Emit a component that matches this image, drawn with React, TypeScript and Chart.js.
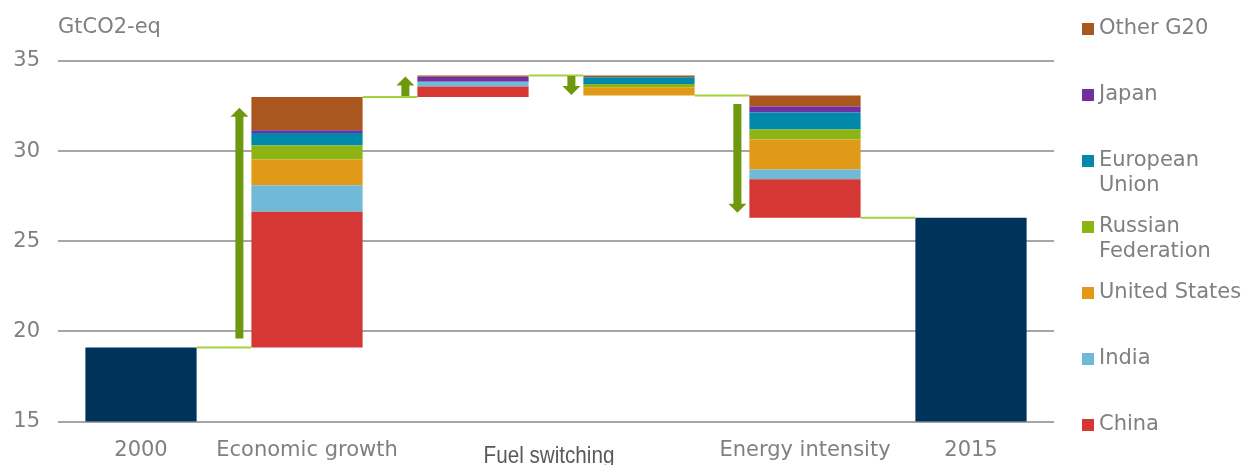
import React, { useEffect, useRef } from "react";
import { Chart, registerables } from "chart.js";
Chart.register(...registerables);

// ---------- data ----------
const categories = ["2000", "Economic growth", "", "", "Energy intensity", "2015"];
const fuelSwitchingLabel = "Fuel switching";
const yTitle = "GtCO2-eq";
const yMin = 15;
const yMax = 35;
const yStep = 5;

const total2000 = 19.1;
const total2015 = 26.3;

// change per step: [Economic growth, Fuel switching (+), Fuel switching (-), Energy intensity]
const china = [7.53, 0.58, 0, -2.14];
const india = [1.48, 0.27, 0, -0.54];
const unitedStates = [1.42, 0, -0.47, -1.66];
const russia = [0.78, 0, -0.18, -0.56];
const europeanUnion = [0.7, 0, -0.37, -0.94];
const japan = [0.15, 0.28, 0, -0.33];
const otherG20 = [1.84, 0.06, -0.09, -0.61];

const seriesNames = ["China", "India", "United States", "Russian Federation", "European Union", "Japan", "Other G20"];

// arrows: start and tip values for each step
const arrowFrom = [19.6, 33.06, 34.17, 32.62];
const arrowTo = [32.4, 34.14, 33.12, 26.58];

// legend (top to bottom)
const legendLines = [["Other G20"], ["Japan"], ["European", "Union"], ["Russian", "Federation"], ["United States"], ["India"], ["China"]];
const legendKeys = ["Other G20", "Japan", "European Union", "Russian Federation", "United States", "India", "China"];

// ---------- styles ----------
const COLORS: Record<string, string> = {
  China: "#d53734",
  India: "#70bad8",
  "United States": "#e19a17",
  "Russian Federation": "#8cb514",
  "European Union": "#0089ab",
  Japan: "#7030a0",
  "Other G20": "#aa561f",
};
const TOTAL_COLOR = "#00335a";
const ARROW_COLOR = "#6e990f";
const CONNECTOR_COLOR = "#a5d23a";
const TEXT_COLOR = "#808080";
const GRID_COLOR = "#a6a6a6";
const FONT = '"DejaVu Sans", sans-serif';
const FONT_SIZE = 21;
const BAR_PCT = 0.67;

const series = [china, india, unitedStates, russia, europeanUnion, japan, otherG20];

function build() {
  const floating: (number[] | null)[][] = series.map(() => categories.map(() => null));
  const levels: number[] = [total2000];
  let level = total2000;
  for (let s = 0; s < china.length; s++) {
    const cat = s + 1;
    const stepTotal = series.reduce((a, arr) => a + arr[s], 0);
    let low = stepTotal >= 0 ? level : level + stepTotal;
    series.forEach((arr, k) => {
      const v = Math.abs(arr[s]);
      if (v > 0) {
        floating[k][cat] = [low, low + v];
        low += v;
      }
    });
    level += stepTotal;
    levels.push(level);
  }
  return { floating, levels };
}

function drawArrow(ctx: CanvasRenderingContext2D, x: number, y1: number, y2: number) {
  const dir = y2 < y1 ? -1 : 1;
  const headLen = 9;
  const headW = 9;
  const shaftW = 4;
  const base = y2 - dir * headLen;
  ctx.beginPath();
  ctx.moveTo(x - shaftW, y1);
  ctx.lineTo(x - shaftW, base);
  ctx.lineTo(x - headW, base);
  ctx.lineTo(x, y2);
  ctx.lineTo(x + headW, base);
  ctx.lineTo(x + shaftW, base);
  ctx.lineTo(x + shaftW, y1);
  ctx.closePath();
  ctx.fill();
}

export default function App() {
  const ref = useRef<HTMLCanvasElement | null>(null);

  useEffect(() => {
    document.body.style.margin = "0";
    const { floating, levels } = build();

    const datasets: any[] = [
      {
        label: "Total",
        data: categories.map((_, i) => (i === 0 ? total2000 : i === categories.length - 1 ? total2015 : null)),
        backgroundColor: TOTAL_COLOR,
        grouped: false,
        barPercentage: BAR_PCT,
        categoryPercentage: 1,
      },
      ...seriesNames.map((name, k) => ({
        label: name,
        data: floating[k],
        backgroundColor: COLORS[name],
        grouped: false,
        barPercentage: BAR_PCT,
        categoryPercentage: 1,
      })),
    ];

    const overlay = {
      id: "overlay",
      afterDatasetsDraw(chart: any) {
        const { ctx, chartArea } = chart;
        const x = chart.scales.x;
        const y = chart.scales.y;
        const catW = chartArea.width / categories.length;
        const half = (catW * BAR_PCT) / 2;
        ctx.save();
        ctx.strokeStyle = CONNECTOR_COLOR;
        ctx.lineWidth = 2;
        for (let i = 0; i < levels.length; i++) {
          const x1 = x.getPixelForValue(i) + half;
          const x2 = x.getPixelForValue(i + 1) - half;
          const py = y.getPixelForValue(levels[i]);
          ctx.beginPath();
          ctx.moveTo(x1, py);
          ctx.lineTo(x2, py);
          ctx.stroke();
        }
        ctx.fillStyle = ARROW_COLOR;
        for (let s = 0; s < arrowFrom.length; s++) {
          const ax = x.getPixelForValue(s + 1) - half - 12;
          drawArrow(ctx, ax, y.getPixelForValue(arrowFrom[s]), y.getPixelForValue(arrowTo[s]));
        }
        ctx.restore();
      },
      afterDraw(chart: any) {
        const { ctx, chartArea } = chart;
        const x = chart.scales.x;
        ctx.save();
        // y title
        ctx.fillStyle = TEXT_COLOR;
        ctx.font = `${FONT_SIZE}px ${FONT}`;
        ctx.textAlign = "left";
        ctx.textBaseline = "middle";
        ctx.fillText(yTitle, chartArea.left, 28);
        // fuel switching label (condensed)
        ctx.fillStyle = "#595959";
        ctx.font = `24px "Liberation Sans", sans-serif`;
        ctx.textAlign = "center";
        ctx.textBaseline = "alphabetic";
        const fx = (x.getPixelForValue(2) + x.getPixelForValue(3)) / 2 - 7;
        ctx.save();
        ctx.translate(fx, 463);
        ctx.scale(0.86, 1);
        ctx.fillText(fuelSwitchingLabel, 0, 0);
        ctx.restore();
        // legend
        ctx.font = `${FONT_SIZE}px ${FONT}`;
        ctx.textAlign = "left";
        ctx.textBaseline = "middle";
        legendLines.forEach((lines, i) => {
          const cy = 29 + i * 66;
          ctx.fillStyle = COLORS[legendKeys[i]];
          ctx.fillRect(1082, cy - 6, 12, 12);
          ctx.fillStyle = TEXT_COLOR;
          lines.forEach((t, j) => ctx.fillText(t, 1099, cy + j * 25));
        });
        ctx.restore();
      },
    };

    const chart = new Chart(ref.current as HTMLCanvasElement, {
      type: "bar",
      data: { labels: categories, datasets },
      options: {
        responsive: false,
        animation: false,
        layout: { padding: { left: 0, right: 188, top: 61, bottom: 0 } },
        plugins: { legend: { display: false }, tooltip: { enabled: false } },
        scales: {
          x: {
            grid: { display: false },
            border: { display: false },
            ticks: { color: TEXT_COLOR, font: { family: FONT, size: FONT_SIZE }, padding: 8, maxRotation: 0, autoSkip: false },
            afterFit: (axis: any) => {
              axis.height = 43.5;
            },
          },
          y: {
            min: yMin,
            max: yMax,
            border: { display: false },
            grid: { color: GRID_COLOR, lineWidth: 2, drawTicks: false },
            ticks: { stepSize: yStep, color: TEXT_COLOR, font: { family: FONT, size: FONT_SIZE }, padding: 18 },
            afterFit: (axis: any) => {
              axis.width = 58;
            },
          },
        },
      },
      plugins: [overlay],
    } as any);
    return () => chart.destroy();
  }, []);

  return (
    <div style={{ width: 1242, height: 465 }}>
      <canvas ref={ref} width={1242} height={465} />
    </div>
  );
}
